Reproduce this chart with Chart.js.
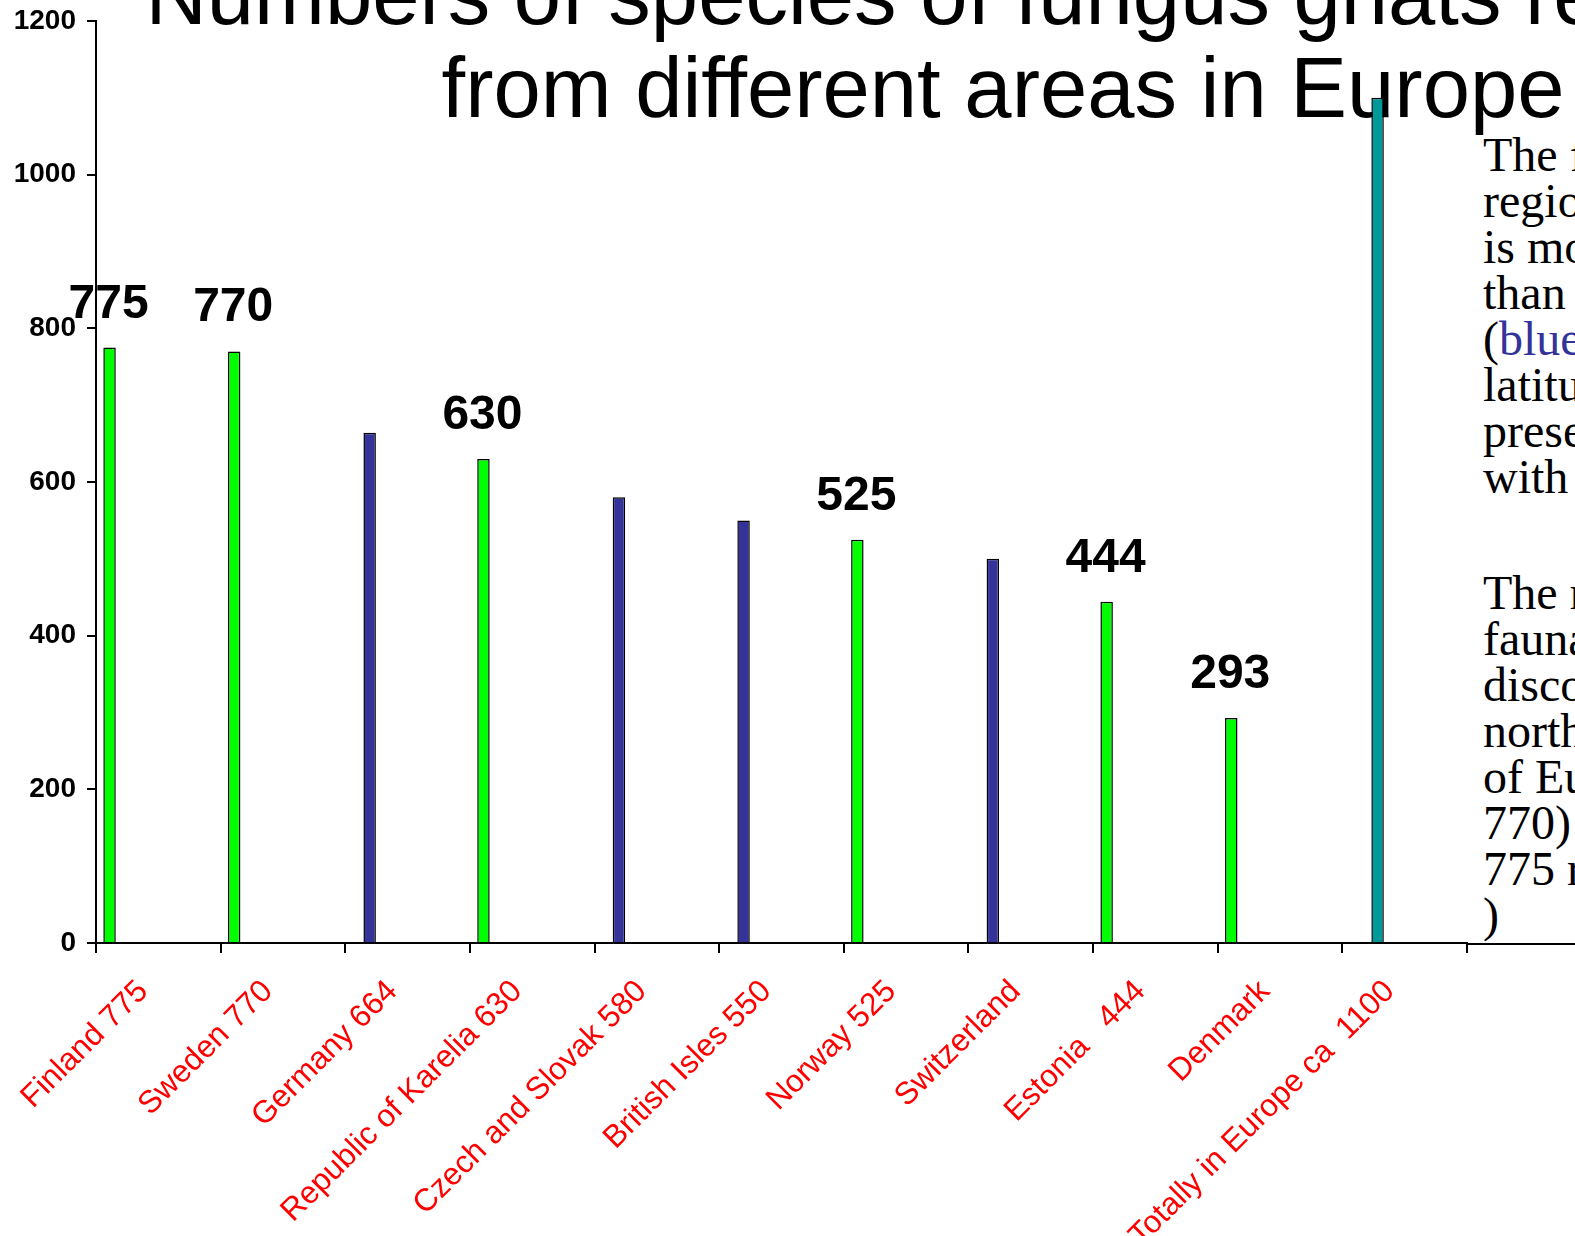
<!DOCTYPE html>
<html>
<head>
<meta charset="utf-8">
<title>Fungus gnats in Europe</title>
<script src="https://cdn.jsdelivr.net/npm/chart.js@4"></script>
<style>
  html, body { margin: 0; padding: 0; background: #fff; overflow: hidden; }
  body { width: 1575px; height: 1236px; position: relative; }
  #title {
    position: absolute; left: 0; top: -52px; width: 2006px;
    text-align: center; white-space: nowrap; color: #000;
    font-family: "Liberation Sans", Arial, sans-serif; font-size: 85px; line-height: 93px;
  }
  .note {
    position: absolute; left: 1483px; white-space: nowrap; color: #000;
    font-family: "Liberation Serif", "Times New Roman", serif; font-size: 48px; line-height: 46px;
  }
  .blue { color: #333399; }
  #wrap { position: absolute; left: 0; top: 0; width: 1575px; height: 1236px; }
</style>
</head>
<body>
<div id="title">Numbers of species of fungus gnats recorded<br>from different areas in Europe</div>
<div class="note" style="top:132px">The fauna of the northern<br>regions (green)<br>is more species-rich<br>than that of the south<br>(<span class="blue">blue</span>) despite the higher<br>latitude: most species are<br>present in the north<br>with many boreal species</div>
<div class="note" style="top:570px">The rich northern<br>fauna is due to recent<br>discoveries made in the<br>northern countries<br>of Europe (Sweden<br>770) and Finland<br>775 recorded species<br>)</div>
<div id="wrap"><canvas id="gnatChart"></canvas></div>

<script>
// Species counts per area
const categories = ['Finland 775', 'Sweden 770', 'Germany 664', 'Republic of Karelia 630',
    'Czech and Slovak 580', 'British Isles 550', 'Norway 525', 'Switzerland',
    'Estonia   444', 'Denmark', 'Totally in Europe ca  1100'];
const northernVals = [775, 770, null, 630, null, null, 525, null, 444, 293, null];
const centralVals  = [null, null, 664, null, 580, 550, null, 500, null, null, null];
const totalVals    = [null, null, null, null, null, null, null, null, null, null, 1100];
const yTicks = [0, 200, 400, 600, 800, 1000, 1200];

// the source chart kept 10 series slots per category, only 3 of them filled
const emptySlots = 7;

const FONT = '"Liberation Sans", Arial, sans-serif';
Chart.defaults.font.family = FONT;

const barLabels = {
    id: 'barLabels',
    afterDatasetsDraw(chart) {
        const ctx = chart.ctx;
        const meta = chart.getDatasetMeta(0);
        ctx.save();
        ctx.font = 'bold 48px ' + FONT;
        ctx.fillStyle = '#000';
        ctx.textAlign = 'center';
        ctx.textBaseline = 'alphabetic';
        meta.data.forEach((bar, i) => {
            if (northernVals[i] == null) return;
            ctx.fillText(northernVals[i], bar.x - 1, bar.y - 30);
        });
        ctx.restore();
    }
};

// x axis line runs on past the last category to the slide edge
const axisTail = {
    id: 'axisTail',
    afterDraw(chart) {
        const { ctx, chartArea, width } = chart;
        ctx.save();
        ctx.strokeStyle = '#000';
        ctx.lineWidth = 2;
        ctx.beginPath();
        ctx.moveTo(chartArea.right, chartArea.bottom + 1);
        ctx.lineTo(width, chartArea.bottom + 1);
        ctx.stroke();
        ctx.restore();
    }
};

const barStyle = { borderColor: '#000', borderWidth: 1.5, categoryPercentage: 10 / 11.5, barPercentage: 1.15 };
const datasets = [
    { label: 'Northern', data: northernVals, backgroundColor: '#00ff00', ...barStyle },
    { label: 'Central', data: centralVals, backgroundColor: '#333399', ...barStyle },
    { label: 'Europe total', data: totalVals, backgroundColor: '#009999', ...barStyle }
];
for (let i = 0; i < emptySlots; i++) datasets.push({ label: '', data: [], ...barStyle });

new Chart(document.getElementById('gnatChart'), {
    type: 'bar',
    data: { labels: categories, datasets },
    plugins: [barLabels, axisTail],
    options: {
        responsive: true,
        maintainAspectRatio: false,
        animation: false,
        layout: { padding: { top: 21, right: 108, left: 0, bottom: 0 } },
        plugins: { legend: { display: false }, tooltip: { enabled: false } },
        scales: {
            x: {
                offset: true,
                grid: { display: true, drawOnChartArea: false, color: '#000', lineWidth: 2, tickLength: 10 },
                border: { color: '#000', width: 2 },
                ticks: {
                    color: '#ff0000', font: { size: 31.5 }, autoSkip: false,
                    minRotation: 45, maxRotation: 45, padding: 20, labelOffset: -15
                },
                afterFit: s => { s.height = 293; }
            },
            y: {
                min: 0, max: 1200,
                afterBuildTicks: s => { s.ticks = yTicks.map(v => ({ value: v })); },
                grid: { display: true, drawOnChartArea: false, color: '#000', lineWidth: 2, tickLength: 9 },
                border: { color: '#000', width: 2 },
                ticks: { color: '#000', font: { size: 28, weight: 'bold' }, padding: 11, callback: v => String(v) },
                afterFit: s => { s.width = 96; s.paddingTop = 0; s.paddingBottom = 0; }
            }
        }
    }
});
</script>
</body>
</html>
